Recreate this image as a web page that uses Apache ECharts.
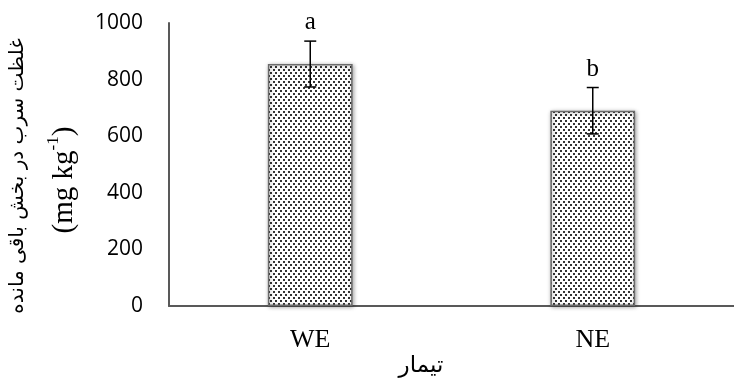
<!DOCTYPE html>
<html>
<head>
<meta charset="utf-8">
<script src="https://cdn.jsdelivr.net/npm/echarts@6/dist/echarts.min.js"></script>
<style>
  html, body { margin: 0; padding: 0; background: #fff; }
  #chart { width: 734px; height: 381px; }
</style>
</head>
<body>
<div id="chart"></div>
<script>
// Treatments and lead concentration in the residual fraction
const categories = ['WE', 'NE'];
const leadMeans = [855, 690];
const leadErrors = [81, 82];
const groupLetters = ['a', 'b'];
const yAxisMin = 0;
const yAxisMax = 1000;
const yAxisStep = 200;

// Stippled fill for the bars: staggered small dark squares
function makeDotPattern() {
  const c = document.createElement('canvas');
  c.width = 5;
  c.height = 6;
  const ctx = c.getContext('2d');
  ctx.fillStyle = '#ffffff';
  ctx.fillRect(0, 0, 5, 6);
  ctx.fillStyle = '#333333';
  ctx.fillRect(0, 0, 2, 2);
  ctx.fillRect(3, 3, 2, 2);
  return c;
}

const chart = echarts.init(document.getElementById('chart'), null, { renderer: 'canvas' });

const errorData = categories.map((c, i) => [i, leadMeans[i], leadErrors[i]]);

chart.setOption({
  animation: false,
  backgroundColor: '#ffffff',
  grid: { left: 169, top: 23, width: 578, height: 283, containLabel: false },
  xAxis: {
    type: 'category',
    data: categories,
    axisLine: { show: true, lineStyle: { color: '#595959', width: 2 } },
    axisTick: { show: false },
    axisLabel: {
      color: '#000',
      fontFamily: "'Liberation Serif', 'Times New Roman', serif",
      fontSize: 26,
      margin: 21
    },
    splitLine: { show: false }
  },
  yAxis: {
    type: 'value',
    min: yAxisMin,
    max: yAxisMax,
    interval: yAxisStep,
    axisLine: { show: true, lineStyle: { color: '#595959', width: 2 } },
    axisTick: { show: false },
    axisLabel: {
      color: '#000',
      fontFamily: "'Open Sans', sans-serif",
      fontSize: 21,
      margin: 26,
      formatter: function (v) { return String(v); }
    },
    splitLine: { show: false }
  },
  graphic: [
    {
      type: 'text',
      x: 18,
      y: 176,
      rotation: Math.PI / 2,
      style: {
        text: 'غلظت سرب در بخش باقی مانده',
        fontFamily: "'DejaVu Sans', sans-serif",
        fontSize: 20,
        fill: '#000',
        align: 'center',
        verticalAlign: 'middle'
      }
    },
    {
      type: 'text',
      x: 62,
      y: 180,
      rotation: Math.PI / 2,
      style: {
        text: '{t|(mg kg}{s|-1}{t|)}',
        align: 'center',
        verticalAlign: 'middle',
        rich: {
          t: {
            fontFamily: "'Liberation Serif', 'Times New Roman', serif",
            fontSize: 29,
            color: '#000',
            lineHeight: 34,
            verticalAlign: 'bottom'
          },
          s: {
            fontFamily: "'Liberation Serif', 'Times New Roman', serif",
            fontSize: 17,
            color: '#000',
            lineHeight: 34,
            verticalAlign: 'top'
          }
        }
      }
    },
    {
      type: 'text',
      x: 421,
      y: 366,
      style: {
        text: 'تیمار',
        fontFamily: "'DejaVu Sans', sans-serif",
        fontSize: 23,
        fill: '#000',
        align: 'center',
        verticalAlign: 'middle'
      }
    }
  ],
  series: [
    {
      type: 'bar',
      data: leadMeans,
      barWidth: '30%',
      itemStyle: {
        color: { image: makeDotPattern(), repeat: 'repeat' },
        borderColor: '#6a6a6a',
        borderWidth: 1.5,
        shadowBlur: 4,
        shadowColor: 'rgba(0,0,0,0.35)',
        shadowOffsetX: 1,
        shadowOffsetY: 1
      }
    },
    {
      type: 'custom',
      data: errorData,
      z: 10,
      renderItem: function (params, api) {
        const idx = api.value(0);
        const mean = api.value(1);
        const err = api.value(2);
        const letter = groupLetters[idx];
        const top = api.coord([idx, mean + err]);
        const bottom = api.coord([idx, mean - err]);
        const capHalf = 6;
        const lineStyle = { stroke: '#000', lineWidth: 1.5 };
        return {
          type: 'group',
          children: [
            { type: 'line', shape: { x1: top[0], y1: top[1], x2: bottom[0], y2: bottom[1] }, style: lineStyle },
            { type: 'line', shape: { x1: top[0] - capHalf, y1: top[1], x2: top[0] + capHalf, y2: top[1] }, style: lineStyle },
            { type: 'line', shape: { x1: bottom[0] - capHalf, y1: bottom[1], x2: bottom[0] + capHalf, y2: bottom[1] }, style: lineStyle },
            {
              type: 'text',
              x: top[0],
              y: top[1] - 6,
              style: {
                text: letter,
                fontFamily: "'Liberation Serif', 'Times New Roman', serif",
                fontSize: 25,
                fill: '#000',
                align: 'center',
                verticalAlign: 'bottom'
              }
            }
          ]
        };
      }
    }
  ]
});
</script>
</body>
</html>
